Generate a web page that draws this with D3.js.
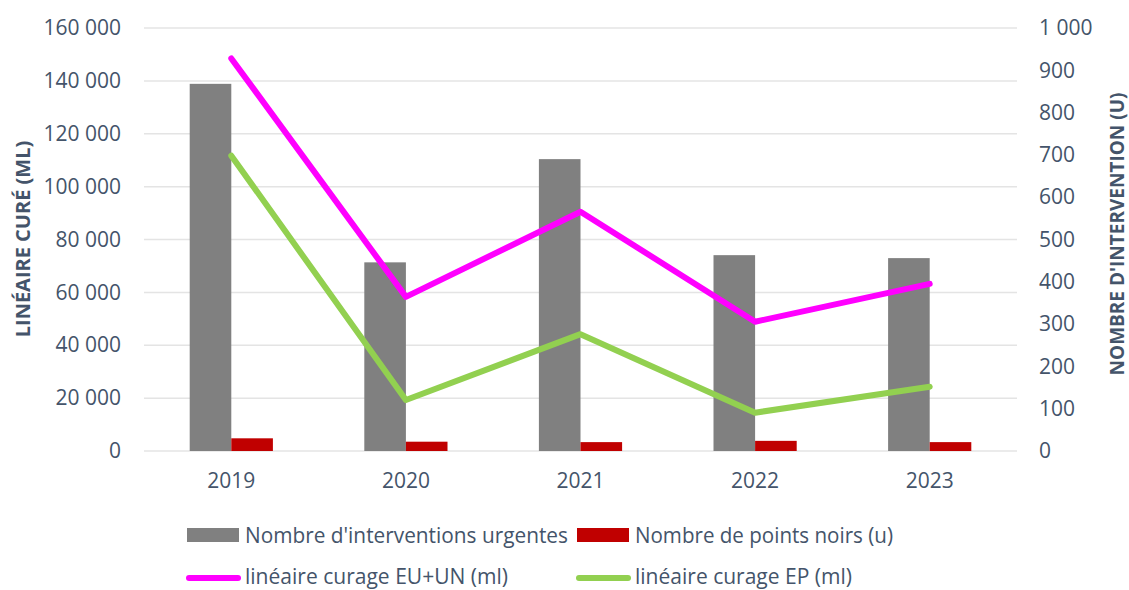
<!DOCTYPE html>
<html>
<head>
<meta charset="utf-8">
<script src="https://cdn.jsdelivr.net/npm/d3@7"></script>
<style>
  body { margin: 0; background: #fff; }
  text { font-family: "Open Sans", sans-serif; fill: #44546A; }
</style>
</head>
<body>
<div id="chart"></div>
<script>
// Data
var years = ["2019", "2020", "2021", "2022", "2023"];
var interventionsUrgentes = [868, 446, 690, 463, 456];
var pointsNoirs = [30, 22, 21, 24, 21];
var curageEUUN = [148500, 58300, 90500, 48900, 63200];
var curageEP = [111700, 19300, 44200, 14500, 24300];
var leftTicks = [0, 20000, 40000, 60000, 80000, 100000, 120000, 140000, 160000];
var rightTicks = [0, 100, 200, 300, 400, 500, 600, 700, 800, 900, 1000];

// Work area
var svgWidth = 1129;
var svgHeight = 590;
var margin = { top: 28, right: 112, bottom: 139, left: 144 };
var chartWidth = svgWidth - margin.left - margin.right;
var chartHeight = svgHeight - margin.top - margin.bottom;

var svg = d3.select("#chart")
    .append("svg")
    .attr("width", svgWidth)
    .attr("height", svgHeight);

var chartGroup = svg.append("g")
    .attr("transform", `translate(${margin.left}, ${margin.top})`);

// Scales
var xScale = d3.scaleBand()
    .domain(years)
    .range([0, chartWidth]);

var yLeft = d3.scaleLinear()
    .domain([0, 160000])
    .range([chartHeight, 0]);

var yRight = d3.scaleLinear()
    .domain([0, 1000])
    .range([chartHeight, 0]);

var fmt = d => d3.format(",")(d).replace(/,/g, " ");

// Gridlines
chartGroup.append("g")
    .selectAll("line")
    .data(leftTicks)
    .enter()
    .append("line")
    .attr("x1", 0)
    .attr("x2", chartWidth)
    .attr("y1", d => yLeft(d))
    .attr("y2", d => yLeft(d))
    .attr("stroke", "#e4e4e4")
    .attr("stroke-width", 1.5);

// Axes
var leftAxis = d3.axisLeft(yLeft).tickValues(leftTicks).tickFormat(fmt).tickSize(0).tickPadding(23);
var rightAxis = d3.axisRight(yRight).tickValues(rightTicks).tickFormat(fmt).tickSize(0).tickPadding(22);
var bottomAxis = d3.axisBottom(xScale).tickSize(0).tickPadding(22);

var gl = chartGroup.append("g").call(leftAxis);
var gr = chartGroup.append("g").attr("transform", `translate(${chartWidth}, 0)`).call(rightAxis);
var gb = chartGroup.append("g").attr("transform", `translate(0, ${chartHeight})`).call(bottomAxis);

[gl, gr, gb].forEach(g => {
    g.select(".domain").remove();
    g.selectAll("text")
        .attr("fill", "#44546A")
        .style("font-size", "21px")
        .style("font-family", "Open Sans");
});

// Bars
var barW = 41.6;
var bars = [
    { values: interventionsUrgentes, color: "#808080", offset: -barW },
    { values: pointsNoirs, color: "#C00000", offset: 0 }
];

bars.forEach(s => {
    chartGroup.append("g")
        .selectAll("rect")
        .data(s.values)
        .enter()
        .append("rect")
        .attr("x", (d, i) => xScale(years[i]) + xScale.bandwidth() / 2 + s.offset)
        .attr("y", d => yRight(d))
        .attr("width", barW)
        .attr("height", d => chartHeight - yRight(d))
        .attr("fill", s.color);
});

// Lines
var lineGen = d3.line()
    .x((d, i) => xScale(years[i]) + xScale.bandwidth() / 2)
    .y(d => yLeft(d));

[{ values: curageEUUN, color: "#FF00FF" }, { values: curageEP, color: "#92D050" }].forEach(s => {
    chartGroup.append("path")
        .datum(s.values)
        .attr("d", lineGen)
        .attr("fill", "none")
        .attr("stroke", s.color)
        .attr("stroke-width", 6)
        .attr("stroke-linecap", "round")
        .attr("stroke-linejoin", "round");
});

// Axis titles
svg.append("text")
    .attr("transform", "translate(30, 239) rotate(-90)")
    .attr("text-anchor", "middle")
    .style("font-size", "20px")
    .style("font-weight", "bold")
    .text("LINÉAIRE CURÉ (ML)");

svg.append("text")
    .attr("transform", "translate(1124, 234) rotate(-90)")
    .attr("text-anchor", "middle")
    .style("font-size", "19px")
    .style("font-weight", "bold")
    .text("NOMBRE D'INTERVENTION (U)");

// Legend
var legendItems = [
    { label: "Nombre d'interventions urgentes", color: "#808080", type: "rect", x: 187, y: 535, w: 323 },
    { label: "Nombre de points noirs (u)", color: "#C00000", type: "rect", x: 577, y: 535, w: 258 },
    { label: "linéaire curage EU+UN (ml)", color: "#FF00FF", type: "line", x: 187, y: 578, w: 263 },
    { label: "linéaire curage EP (ml)", color: "#92D050", type: "line", x: 577, y: 578, w: 217 }
];

var legend = svg.append("g");
legendItems.forEach(item => {
    if (item.type === "rect") {
        legend.append("rect")
            .attr("x", item.x)
            .attr("y", item.y - 7)
            .attr("width", 52)
            .attr("height", 14)
            .attr("fill", item.color);
    } else {
        legend.append("line")
            .attr("x1", item.x + 2)
            .attr("x2", item.x + 51)
            .attr("y1", item.y)
            .attr("y2", item.y)
            .attr("stroke", item.color)
            .attr("stroke-width", 6)
            .attr("stroke-linecap", "round");
    }
    legend.append("text")
        .attr("x", item.x + 58)
        .attr("y", Math.min(item.y + 8, 584))
        .attr("textLength", item.w)
        .attr("lengthAdjust", "spacingAndGlyphs")
        .style("font-size", "21px")
        .text(item.label);
});
</script>
</body>
</html>
